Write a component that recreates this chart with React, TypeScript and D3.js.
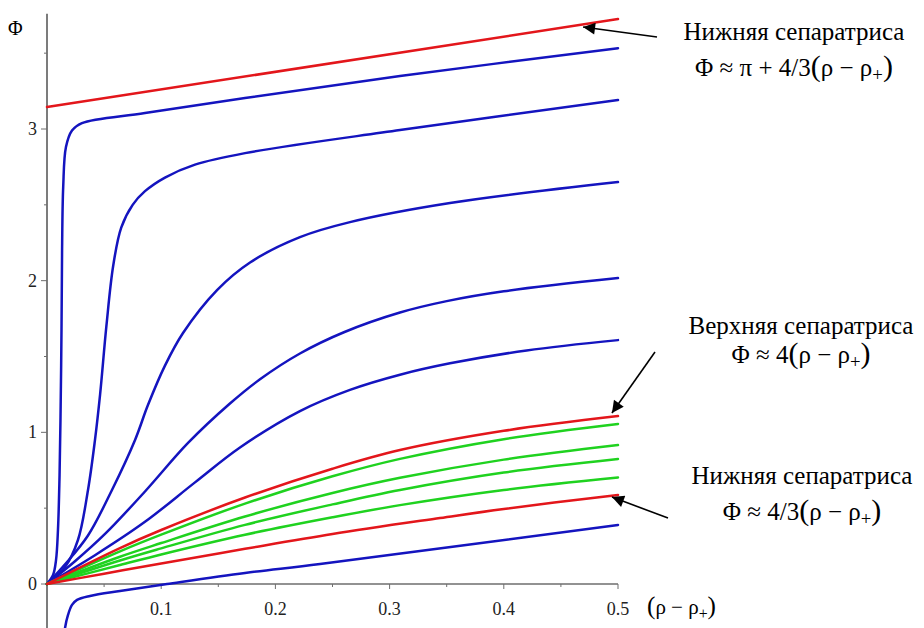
import * as d3 from "d3";

type Pt = [number, number];

// phase curves: [ρ − ρ+, Φ]
const redTop: Pt[] = [[0, 3.145], [0.5, 3.725]];
const blue1: Pt[] = [[0, 0], [0.0053, 0.059], [0.0079, 0.158], [0.0096, 0.356], [0.0109, 0.686], [0.0118, 1.081], [0.0127, 1.674], [0.0132, 2.2], [0.0142, 2.62], [0.0166, 2.881], [0.0219, 2.99], [0.0306, 3.039], [0.0858, 3.105], [0.1734, 3.204], [0.3091, 3.349], [0.5, 3.533]];
const blue2: Pt[] = [[0, 0], [0.0158, 0.112], [0.0271, 0.29], [0.0359, 0.62], [0.042, 0.949], [0.0465, 1.25], [0.052, 1.7], [0.058, 2.1], [0.065, 2.35], [0.075, 2.5], [0.0858, 2.59], [0.1033, 2.68], [0.1296, 2.765], [0.1734, 2.841], [0.3091, 2.993], [0.5, 3.191]];
const blue3: Pt[] = [[0, 0], [0.0158, 0.13], [0.0359, 0.32], [0.0569, 0.62], [0.0771, 0.95], [0.0884, 1.18], [0.1033, 1.44], [0.1191, 1.655], [0.1489, 1.938], [0.1778, 2.12], [0.2215, 2.287], [0.2653, 2.386], [0.3529, 2.512], [0.5, 2.65]];
const blue4: Pt[] = [[0, 0], [0.0245, 0.15], [0.0508, 0.33], [0.0858, 0.61], [0.1235, 0.93], [0.1602, 1.19], [0.1865, 1.35], [0.2215, 1.52], [0.26, 1.66], [0.3091, 1.79], [0.35, 1.865], [0.4, 1.93], [0.5, 2.017]];
const blue5: Pt[] = [[0, 0], [0.042, 0.19], [0.0858, 0.41], [0.1296, 0.67], [0.169, 0.9], [0.2215, 1.14], [0.2653, 1.28], [0.3091, 1.38], [0.3529, 1.455], [0.42, 1.54], [0.5, 1.608]];
const redUpper: Pt[] = [[0, 0], [0.0639, 0.237], [0.1, 0.356], [0.1734, 0.57], [0.25, 0.76], [0.3091, 0.883], [0.4, 1.01], [0.5, 1.107]];
const green1: Pt[] = [[0, 0], [0.0639, 0.215], [0.1, 0.325], [0.1734, 0.53], [0.25, 0.71], [0.3091, 0.825], [0.4, 0.955], [0.5, 1.055]];
const green2: Pt[] = [[0, 0], [0.0639, 0.18], [0.1, 0.27], [0.1734, 0.445], [0.25, 0.6], [0.3091, 0.7], [0.4, 0.82], [0.5, 0.916]];
const green3: Pt[] = [[0, 0], [0.0639, 0.155], [0.1, 0.235], [0.1734, 0.39], [0.25, 0.525], [0.3091, 0.62], [0.4, 0.735], [0.5, 0.824]];
const green4: Pt[] = [[0, 0], [0.0639, 0.125], [0.1, 0.195], [0.1734, 0.325], [0.25, 0.44], [0.3091, 0.52], [0.4, 0.62], [0.5, 0.702]];
const redLower: Pt[] = [[0, 0], [0.05, 0.068], [0.1, 0.135], [0.1734, 0.232], [0.25, 0.33], [0.3441, 0.435], [0.4, 0.495], [0.5, 0.587]];
const blueLow: Pt[] = [[0.0152, -0.34], [0.0158, -0.29], [0.0184, -0.204], [0.0219, -0.138], [0.0263, -0.105], [0.0377, -0.079], [0.0639, -0.046], [0.1051, 0], [0.1734, 0.073], [0.2391, 0.132], [0.5, 0.389]];

const xMajor = [0.1, 0.2, 0.3, 0.4, 0.5];
const xMinor = [0.05, 0.15, 0.25, 0.35, 0.45];
const yMajor = [0, 1, 2, 3];
const yMinor = [0.5, 1.5, 2.5, 3.5];

const noteTitles = ["Нижняя сепаратриса", "Верхняя сепаратриса", "Нижняя сепаратриса"];
const noteFormulas = ["Φ ≈ π + 4/3", "Φ ≈ 4", "Φ ≈ 4/3"];
const noteTips: Pt[] = [[0.4694, 3.672], [0.4947, 1.127], [0.4947, 0.573]];

const RED = "#e3161b";
const BLUE = "#1414bf";
const GREEN = "#1fd21f";

const series: { pts: Pt[]; color: string }[] = [
  { pts: blueLow, color: BLUE },
  { pts: blue5, color: BLUE },
  { pts: blue4, color: BLUE },
  { pts: blue3, color: BLUE },
  { pts: blue2, color: BLUE },
  { pts: blue1, color: BLUE },
  { pts: green4, color: GREEN },
  { pts: green3, color: GREEN },
  { pts: green2, color: GREEN },
  { pts: green1, color: GREEN },
  { pts: redLower, color: RED },
  { pts: redUpper, color: RED },
  { pts: redTop, color: RED },
];

const noteLayout = [
  { cx: 794, y1: 40, y2: 76, tail: [657, 37] },
  { cx: 801, y1: 334, y2: 363, tail: [655, 352] },
  { cx: 802, y1: 484, y2: 520, tail: [668, 518] },
];

const serif = "'Liberation Serif', 'Times New Roman', serif";

const Delta = () => (
  <>
    <tspan fontSize="1.2em">(</tspan>
    <tspan>ρ − ρ</tspan>
    <tspan dy={5} fontSize="0.75em">+</tspan>
    <tspan dy={-5} fontSize="1.2em">)</tspan>
  </>
);

export default function App() {
  const width = 924;
  const height = 628;
  const x = d3.scaleLinear().domain([0, 0.5]).range([47, 618]);
  const y = d3.scaleLinear().domain([0, 3]).range([584, 129]);

  const line = d3
    .line<Pt>()
    .x((d) => x(d[0]))
    .y((d) => y(d[1]))
    .curve(d3.curveCatmullRom.alpha(0.5));

  const axisColor = "#6e6e6e";
  const textColor = "#222";

  return (
    <>
      <style>{`body{margin:0}`}</style>
      <svg width={width} height={height} style={{ display: "block", background: "#fff" }} fontFamily={serif}>
        <defs>
          <marker id="head" viewBox="0 0 10 10" refX="10" refY="5" markerWidth="18" markerHeight="12" markerUnits="userSpaceOnUse" orient="auto">
            <path d="M0,0 L10,5 L0,10 z" fill="#000" />
          </marker>
        </defs>

        {/* axes */}
        <line x1={x(0)} x2={x(0)} y1={y(3.76)} y2={height} stroke={axisColor} strokeWidth={1.8} />
        <line x1={x(0)} x2={x(0.5)} y1={y(0)} y2={y(0)} stroke={axisColor} strokeWidth={1.5} />

        {yMajor.map((t) => (
          <g key={"ym" + t}>
            <line x1={x(0) - 6} x2={x(0)} y1={y(t)} y2={y(t)} stroke={axisColor} strokeWidth={1} />
            <text x={x(0) - 10} y={y(t) + 6} textAnchor="end" fontSize={18} fill={textColor}>{t}</text>
          </g>
        ))}
        {yMinor.map((t) => (
          <line key={"yn" + t} x1={x(0) - 3} x2={x(0)} y1={y(t)} y2={y(t)} stroke={axisColor} strokeWidth={1} />
        ))}
        {xMajor.map((t) => (
          <g key={"xm" + t}>
            <line x1={x(t)} x2={x(t)} y1={y(0)} y2={y(0) + 5} stroke={axisColor} strokeWidth={1} />
            <text x={x(t)} y={y(0) + 31} textAnchor="middle" fontSize={18} fill={textColor}>{t.toFixed(1)}</text>
          </g>
        ))}
        {xMinor.map((t) => (
          <line key={"xn" + t} x1={x(t)} x2={x(t)} y1={y(0)} y2={y(0) + 3} stroke={axisColor} strokeWidth={1} />
        ))}

        <text x={8} y={35} fontSize={20} fill="#000">Φ</text>
        <text x={647} y={614} fontSize={21} fill="#000"><Delta /></text>

        {/* curves */}
        {series.map((s, i) => (
          <path key={i} d={line(s.pts) ?? ""} fill="none" stroke={s.color} strokeWidth={2.5} strokeLinecap="round" />
        ))}

        {/* annotations */}
        {noteTitles.map((title, i) => {
          const L = noteLayout[i];
          const tip = noteTips[i];
          return (
            <g key={"n" + i}>
              <line x1={L.tail[0]} y1={L.tail[1]} x2={x(tip[0])} y2={y(tip[1])} stroke="#000" strokeWidth={1.6} markerEnd="url(#head)" />
              <text x={L.cx} y={L.y1} textAnchor="middle" fontSize={25} fill="#000">{title}</text>
              <text x={L.cx} y={L.y2} textAnchor="middle" fontSize={25} fill="#000">
                {noteFormulas[i]}
                <Delta />
              </text>
            </g>
          );
        })}
      </svg>
    </>
  );
}
